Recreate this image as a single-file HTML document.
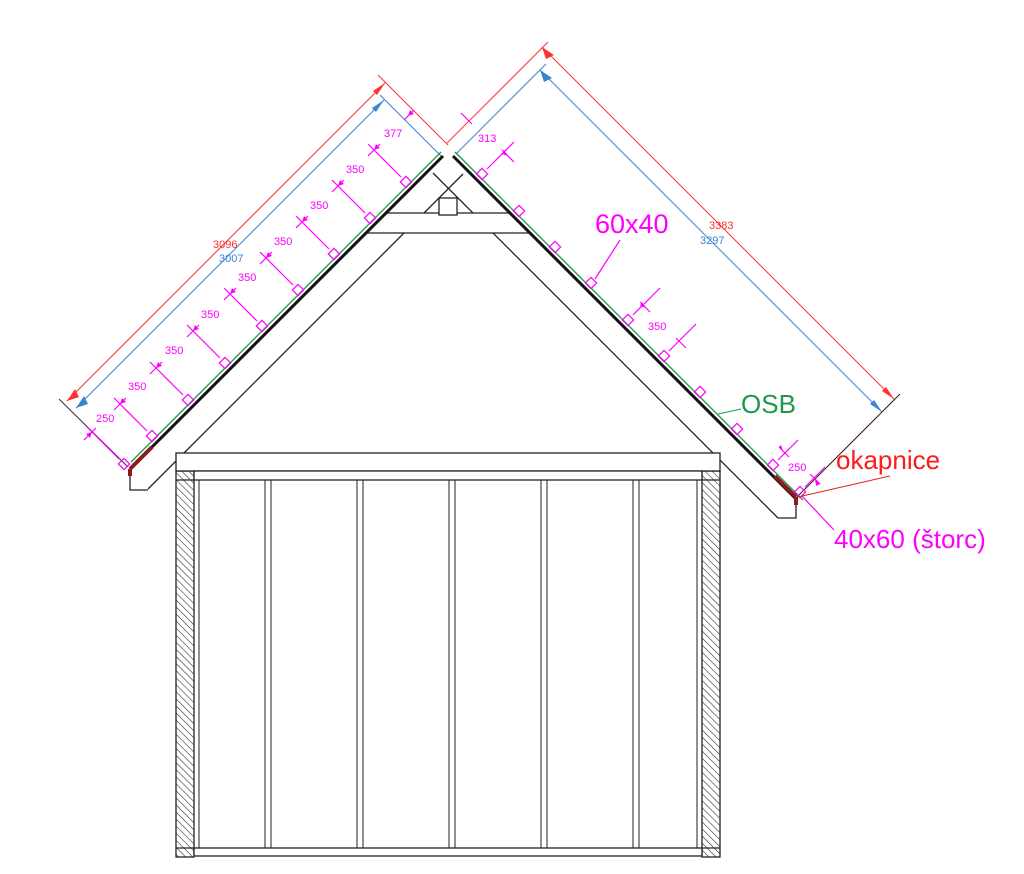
<!DOCTYPE html>
<html><head><meta charset="utf-8"><style>
html,body{margin:0;padding:0;background:#fff;}
svg{display:block;}
text{font-family:"Liberation Sans",Arial,sans-serif;}
</style></head><body>
<svg width="1024" height="874" viewBox="0 0 1024 874" xmlns="http://www.w3.org/2000/svg">
<defs>
<pattern id="h" width="5" height="5" patternUnits="userSpaceOnUse" patternTransform="rotate(-45)">
<rect width="5" height="5" fill="#fff"/><line x1="0" y1="0" x2="0" y2="5" stroke="#333" stroke-width="1.2"/>
</pattern>
</defs>

<g fill="none" stroke-width="1">
<line x1="67" y1="401" x2="385" y2="83" stroke="#ff3030"/>
<line x1="378" y1="75" x2="448" y2="145" stroke="#ff3030"/>
<line x1="76" y1="408" x2="384" y2="100" stroke="#3a85d0"/>
<line x1="380" y1="95" x2="442" y2="157" stroke="#3a85d0"/>
<line x1="59" y1="399" x2="128" y2="467" stroke="#333"/>
<line x1="447" y1="143" x2="548" y2="42" stroke="#ff3030"/>
<line x1="542" y1="47" x2="894" y2="399" stroke="#ff3030"/>
<line x1="456" y1="154" x2="546" y2="64" stroke="#3a85d0"/>
<line x1="540" y1="70" x2="882" y2="412" stroke="#3a85d0"/>
<line x1="797" y1="497" x2="900" y2="394" stroke="#3a1a1a"/>
</g>
<g>
<polygon points="67,401 75,389 79,397" fill="#ff3030"/>
<polygon points="385,83 373,91 377,95" fill="#ff3030"/>
<polygon points="76,408 84,396 88,404" fill="#3a85d0"/>
<polygon points="384,100 372,108 376,112" fill="#3a85d0"/>
<polygon points="542,47 546,59 554,55" fill="#ff3030"/>
<polygon points="894,399 882,391 886,387" fill="#ff3030"/>
<polygon points="540,70 544,82 552,78" fill="#3a85d0"/>
<polygon points="882,412 870,404 874,400" fill="#3a85d0"/>
</g>
<g font-size="11">
<text x="213" y="248" fill="#ff3030">3096</text>
<text x="219" y="262" fill="#3a85d0">3007</text>
<text x="709" y="229" fill="#ff3030">3383</text>
<text x="700" y="244" fill="#3a85d0">3297</text>
</g>

<g stroke="#222" stroke-width="1.3" fill="none">
<line x1="148" y1="489" x2="463" y2="174"/>
<line x1="778" y1="518" x2="433" y2="173"/>
<polyline points="130,469 130,490 148,490"/>
<polyline points="796,499 796,518 778,518"/>
<polygon points="386,213 510,213 530,233 366,233" fill="#fff"/>
<rect x="439" y="198" width="18" height="17" fill="#fff"/>
</g>

<line x1="131" y1="462" x2="441" y2="152" stroke="#1a9a4a" stroke-width="1.3"/>
<line x1="455" y1="152" x2="803" y2="500" stroke="#1a9a4a" stroke-width="1.3"/>
<line x1="130" y1="469" x2="443" y2="156" stroke="#111" stroke-width="3"/>
<line x1="453" y1="156" x2="796" y2="499" stroke="#111" stroke-width="3"/>
<line x1="130" y1="469" x2="152" y2="447" stroke="#8b1a1a" stroke-width="4"/>
<line x1="130" y1="469" x2="130" y2="476" stroke="#8b1a1a" stroke-width="4"/>
<line x1="775" y1="476" x2="796" y2="497" stroke="#8b1a1a" stroke-width="4"/>
<line x1="796" y1="497" x2="796" y2="505" stroke="#8b1a1a" stroke-width="4"/>

<g stroke="#ff00ff" stroke-width="1.2" fill="none">
<g transform="translate(124,464) rotate(45)"><rect x="-4" y="-4" width="8" height="8"/></g>
<g transform="translate(152,436) rotate(45)"><rect x="-4" y="-4" width="8" height="8"/></g>
<g transform="translate(188,400) rotate(45)"><rect x="-4" y="-4" width="8" height="8"/></g>
<g transform="translate(225,363) rotate(45)"><rect x="-4" y="-4" width="8" height="8"/></g>
<g transform="translate(262,326) rotate(45)"><rect x="-4" y="-4" width="8" height="8"/></g>
<g transform="translate(298,290) rotate(45)"><rect x="-4" y="-4" width="8" height="8"/></g>
<g transform="translate(334,254) rotate(45)"><rect x="-4" y="-4" width="8" height="8"/></g>
<g transform="translate(370,218) rotate(45)"><rect x="-4" y="-4" width="8" height="8"/></g>
<g transform="translate(406,182) rotate(45)"><rect x="-4" y="-4" width="8" height="8"/></g>
<line x1="119" y1="459" x2="86" y2="426"/>
<line x1="147" y1="431" x2="114" y2="398"/>
<line x1="183" y1="395" x2="150" y2="362"/>
<line x1="220" y1="358" x2="187" y2="325"/>
<line x1="257" y1="321" x2="224" y2="288"/>
<line x1="293" y1="285" x2="260" y2="252"/>
<line x1="329" y1="249" x2="296" y2="216"/>
<line x1="365" y1="213" x2="332" y2="180"/>
<line x1="401" y1="177" x2="368" y2="144"/>
<line x1="84" y1="440" x2="96" y2="428"/>
<line x1="114" y1="410" x2="126" y2="398"/>
<line x1="150" y1="374" x2="162" y2="362"/>
<line x1="187" y1="337" x2="199" y2="325"/>
<line x1="224" y1="300" x2="236" y2="288"/>
<line x1="260" y1="264" x2="272" y2="252"/>
<line x1="296" y1="228" x2="308" y2="216"/>
<line x1="332" y1="192" x2="344" y2="180"/>
<line x1="368" y1="156" x2="380" y2="144"/>
<line x1="404" y1="120" x2="414" y2="110"/>

<g transform="translate(482,174) rotate(45)"><rect x="-4" y="-4" width="8" height="8"/></g>
<g transform="translate(519,211) rotate(45)"><rect x="-4" y="-4" width="8" height="8"/></g>
<g transform="translate(555,247) rotate(45)"><rect x="-4" y="-4" width="8" height="8"/></g>
<g transform="translate(591,283) rotate(45)"><rect x="-4" y="-4" width="8" height="8"/></g>
<g transform="translate(628,320) rotate(45)"><rect x="-4" y="-4" width="8" height="8"/></g>
<g transform="translate(664,356) rotate(45)"><rect x="-4" y="-4" width="8" height="8"/></g>
<g transform="translate(700,392) rotate(45)"><rect x="-4" y="-4" width="8" height="8"/></g>
<g transform="translate(737,429) rotate(45)"><rect x="-4" y="-4" width="8" height="8"/></g>
<g transform="translate(773,465) rotate(45)"><rect x="-4" y="-4" width="8" height="8"/></g>
<g transform="translate(800,492) rotate(45)"><rect x="-4" y="-4" width="8" height="8"/></g>
<line x1="487" y1="169" x2="514" y2="142"/>
<line x1="502" y1="150" x2="514" y2="162"/>
<line x1="461" y1="113" x2="472" y2="124"/>
<line x1="633" y1="315" x2="660" y2="288"/>
<line x1="669" y1="351" x2="696" y2="324"/>
<line x1="640" y1="302" x2="650" y2="312"/>
<line x1="676" y1="338" x2="686" y2="348"/>
<line x1="778" y1="460" x2="798" y2="440"/>
<line x1="805" y1="487" x2="825" y2="467"/>
<line x1="779" y1="447" x2="789" y2="457"/>
<line x1="810" y1="474" x2="820" y2="484"/>
<line x1="595" y1="279" x2="620" y2="240"/>
<line x1="802" y1="496" x2="834" y2="530"/>
</g>
<g fill="#ff00ff">
<polygon points="92,432 86,434 90,438"/>
<polygon points="120,404 126,402 122,398"/>
<polygon points="156,368 162,366 158,362"/>
<polygon points="193,331 199,329 195,325"/>
<polygon points="230,294 236,292 232,288"/>
<polygon points="266,258 272,256 268,252"/>
<polygon points="302,222 308,220 304,216"/>
<polygon points="338,186 344,184 340,180"/>
<polygon points="374,150 380,148 376,144"/>
<polygon points="408,116 414,114 410,110"/>
<polygon points="508,156 502,154 504,150"/>
<polygon points="646,308 640,306 642,302"/>
<polygon points="783,451 779,447 781,445"/>
<polygon points="815,479 820,484 816,486"/>
</g>
<g font-size="11" fill="#ff00ff">
<text x="96" y="422">250</text>
<text x="128" y="390">350</text>
<text x="165" y="354">350</text>
<text x="201" y="318">350</text>
<text x="238" y="281">350</text>
<text x="274" y="245">350</text>
<text x="310" y="209">350</text>
<text x="346" y="173">350</text>
<text x="384" y="137">377</text>
<text x="478" y="142">313</text>
<text x="648" y="330">350</text>
<text x="788" y="471">250</text>
</g>
<text x="595" y="233" font-size="27" fill="#ff00ff">60x40</text>
<line x1="718" y1="414" x2="741" y2="409" stroke="#1a9a4a" stroke-width="1"/>
<text x="741" y="413" font-size="26" fill="#1a9a4a">OSB</text>
<line x1="798" y1="497" x2="890" y2="476" stroke="#e02020" stroke-width="1"/>
<text x="836" y="469" font-size="26" fill="#ff1a1a">okapnice</text>
<text x="834" y="548" font-size="26" fill="#ff00ff">40x60 (štorc)</text>

<g stroke="#222" stroke-width="1.3">
<rect x="176" y="471" width="18" height="386" fill="url(#h)"/>
<rect x="702" y="471" width="18" height="386" fill="url(#h)"/>
<rect x="176" y="453" width="544" height="18" fill="#fff"/>
<rect x="194" y="471" width="508" height="9" fill="#fff"/>
<rect x="194" y="848" width="508" height="8" fill="#fff"/>
<line x1="176" y1="848" x2="194" y2="848"/>
<line x1="702" y1="848" x2="720" y2="848"/>
<line x1="176" y1="480" x2="194" y2="480"/>
<line x1="702" y1="480" x2="720" y2="480"/>
<g stroke-width="1">
<line x1="199" y1="480" x2="199" y2="848"/>
<line x1="265" y1="480" x2="265" y2="848"/><line x1="271" y1="480" x2="271" y2="848"/>
<line x1="357" y1="480" x2="357" y2="848"/><line x1="363" y1="480" x2="363" y2="848"/>
<line x1="449" y1="480" x2="449" y2="848"/><line x1="455" y1="480" x2="455" y2="848"/>
<line x1="541" y1="480" x2="541" y2="848"/><line x1="547" y1="480" x2="547" y2="848"/>
<line x1="633" y1="480" x2="633" y2="848"/><line x1="639" y1="480" x2="639" y2="848"/>
<line x1="697" y1="480" x2="697" y2="848"/>
</g>
</g>
</svg>
</body></html>
